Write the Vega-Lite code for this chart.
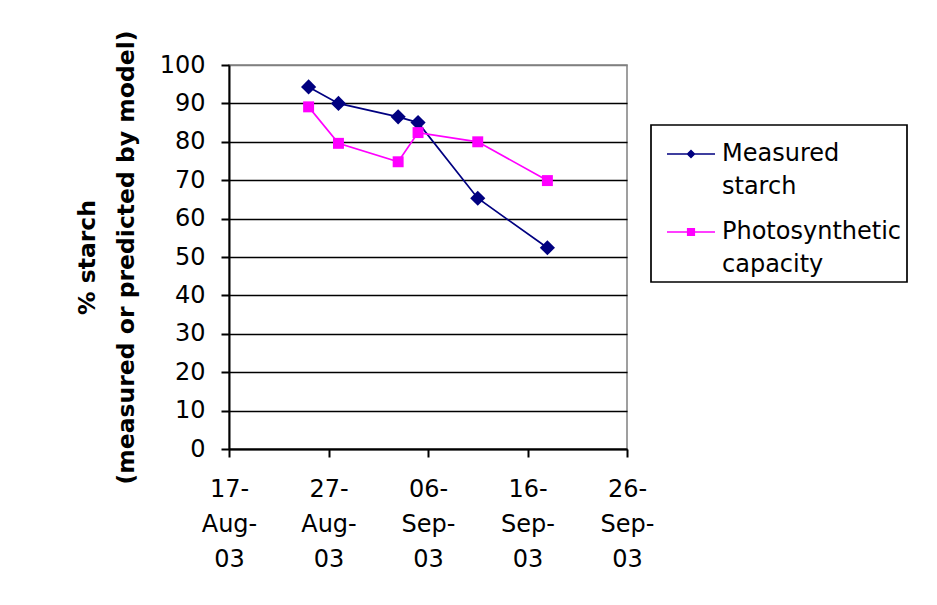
{
  "$schema": "https://vega.github.io/schema/vega-lite/v6.json",
  "width": 398,
  "height": 384,
  "autosize": "none",
  "padding": {"left": 229, "top": 65, "right": 310, "bottom": 156},
  "background": "white",
  "data": {
    "values": [
      {"date": "2003-08-25", "series": "Measured starch", "pct": 94.3},
      {"date": "2003-08-28", "series": "Measured starch", "pct": 90.0},
      {"date": "2003-09-03", "series": "Measured starch", "pct": 86.5},
      {"date": "2003-09-05", "series": "Measured starch", "pct": 85.0},
      {"date": "2003-09-11", "series": "Measured starch", "pct": 65.3},
      {"date": "2003-09-18", "series": "Measured starch", "pct": 52.4},
      {"date": "2003-08-25", "series": "Photosynthetic capacity", "pct": 89.1},
      {"date": "2003-08-28", "series": "Photosynthetic capacity", "pct": 79.6},
      {"date": "2003-09-03", "series": "Photosynthetic capacity", "pct": 74.8},
      {"date": "2003-09-05", "series": "Photosynthetic capacity", "pct": 82.4},
      {"date": "2003-09-11", "series": "Photosynthetic capacity", "pct": 80.0},
      {"date": "2003-09-18", "series": "Photosynthetic capacity", "pct": 69.9}
    ]
  },
  "encoding": {
    "x": {
      "field": "date",
      "type": "temporal",
      "title": null,
      "scale": {
        "type": "utc",
        "domain": [
          {"year": 2003, "month": 8, "date": 17, "utc": true},
          {"year": 2003, "month": 9, "date": 26, "utc": true}
        ]
      },
      "axis": {
        "values": [
          {"year": 2003, "month": 8, "date": 17, "utc": true},
          {"year": 2003, "month": 8, "date": 27, "utc": true},
          {"year": 2003, "month": 9, "date": 6, "utc": true},
          {"year": 2003, "month": 9, "date": 16, "utc": true},
          {"year": 2003, "month": 9, "date": 26, "utc": true}
        ],
        "labelExpr": "[utcFormat(datum.value, '%d-'), utcFormat(datum.value, '%b-'), utcFormat(datum.value, '%y')]",
        "grid": false,
        "labelBaseline": "top",
        "labelLineHeight": 35,
        "labelPadding": 20,
        "labelFlush": false,
        "labelOverlap": false
      }
    },
    "y": {
      "field": "pct",
      "type": "quantitative",
      "title": ["% starch", "(measured or predicted by model)"],
      "scale": {"domain": [0, 100], "nice": false, "zero": true},
      "axis": {
        "values": [0, 10, 20, 30, 40, 50, 60, 70, 80, 90, 100],
        "grid": true,
        "gridColor": {"condition": {"test": "datum.value == 100", "value": "#808080"}, "value": "black"},
        "labelPadding": 16,
        "titleAngle": 270,
        "titleAlign": "center",
        "titleBaseline": "alphabetic",
        "titleX": -135,
        "titleY": 192,
        "titleFontSize": 23.5,
        "titleFontWeight": "bold",
        "titleLineHeight": 39
      }
    }
  },
  "layer": [
    {
      "transform": [{"filter": "datum.series == 'Measured starch'"}],
      "mark": {"type": "line", "strokeWidth": 1.7, "color": "#000080"}
    },
    {
      "transform": [{"filter": "datum.series == 'Photosynthetic capacity'"}],
      "mark": {"type": "line", "strokeWidth": 1.7, "color": "#FF00FF"}
    },
    {
      "transform": [{"filter": "datum.series == 'Measured starch'"}],
      "mark": {"type": "point", "shape": "diamond", "filled": true, "opacity": 1, "size": 230, "color": "#000080"}
    },
    {
      "transform": [{"filter": "datum.series == 'Photosynthetic capacity'"}],
      "mark": {"type": "point", "shape": "square", "filled": true, "opacity": 1, "size": 120, "color": "#FF00FF"}
    },
    {
      "mark": {"type": "point", "filled": true, "opacity": 0, "size": 2304},
      "encoding": {
        "color": {
          "field": "series",
          "type": "nominal",
          "scale": {
            "domain": ["Measured starch", "Photosynthetic capacity"],
            "range": ["#000080", "#FF00FF"]
          },
          "legend": {
            "title": null,
            "orient": "none",
            "legendX": 422,
            "legendY": 60,
            "symbolOpacity": 1,
            "labelExpr": "datum.label == 'Measured starch' ? ['Measured', 'starch'] : ['Photosynthetic', 'capacity']",
            "encode": {
              "labels": {
                "update": {
                  "lineHeight": {"value": 33}
                }
              }
            }
          }
        },
        "shape": {
          "field": "series",
          "type": "nominal",
          "scale": {
            "domain": ["Measured starch", "Photosynthetic capacity"],
            "range": [
              "M-1,-0.035L1,-0.035L1,0.035L-1,0.035Z M0,-0.19L0.19,0L0,0.19L-0.19,0Z",
              "M-1,-0.035L1,-0.035L1,0.035L-1,0.035Z M-0.17,-0.17L0.17,-0.17L0.17,0.17L-0.17,0.17Z"
            ]
          },
          "legend": {
            "title": null,
            "orient": "none",
            "legendX": 422,
            "legendY": 60,
            "symbolOpacity": 1,
            "labelExpr": "datum.label == 'Measured starch' ? ['Measured', 'starch'] : ['Photosynthetic', 'capacity']",
            "encode": {
              "labels": {
                "update": {
                  "lineHeight": {"value": 33}
                }
              }
            }
          }
        }
      }
    }
  ],
  "config": {
    "font": "DejaVu Sans",
    "view": {"stroke": "#808080", "strokeWidth": 1.5},
    "axis": {
      "domainColor": "black",
      "domainWidth": 2,
      "tickColor": "black",
      "tickWidth": 2,
      "tickSize": 8,
      "gridWidth": 1.5,
      "labelFont": "DejaVu Sans",
      "labelFontSize": 24,
      "labelColor": "black",
      "titleFont": "DejaVu Sans",
      "titleColor": "black"
    },
    "legend": {
      "strokeColor": "black",
      "strokeWidth": 1.7,
      "fillColor": "white",
      "padding": 5,
      "cornerRadius": 0,
      "labelFont": "DejaVu Sans",
      "labelFontSize": 24,
      "labelColor": "black",
      "labelOffset": 7,
      "symbolOffset": 11,
      "labelLimit": 400,
      "symbolSize": 2304,
      "symbolStrokeWidth": 0,
      "rowPadding": 9
    }
  }
}
